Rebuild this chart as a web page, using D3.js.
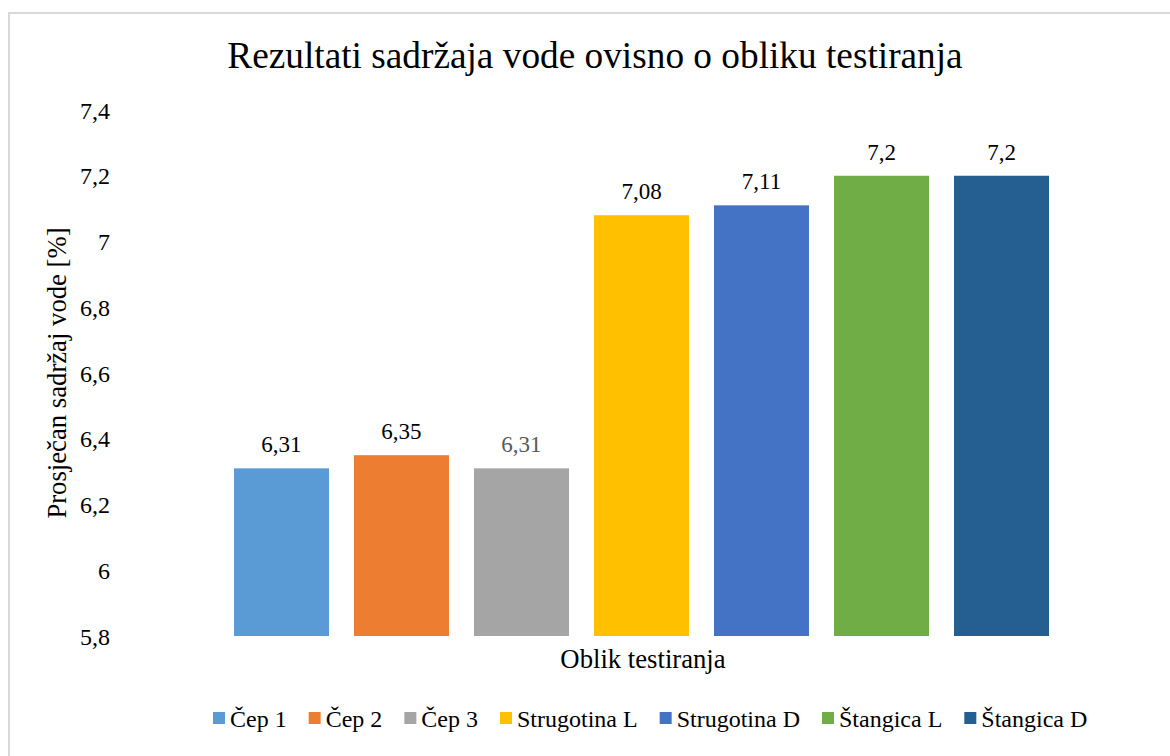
<!DOCTYPE html>
<html>
<head>
<meta charset="utf-8">
<script src="https://cdn.jsdelivr.net/npm/d3@7"></script>
<style>
  html, body { margin: 0; padding: 0; background: #fff; }
  svg text { font-family: "Liberation Serif", "Times New Roman", serif !important; }
</style>
</head>
<body>
<div id="chart"></div>
<script>
// data
const categories = ["Čep 1", "Čep 2", "Čep 3", "Strugotina L", "Strugotina D", "Štangica L", "Štangica D"];
const values = [6.31, 6.35, 6.31, 7.08, 7.11, 7.2, 7.2];
const labels = ["6,31", "6,35", "6,31", "7,08", "7,11", "7,2", "7,2"];
const colors = ["#5B9BD5", "#ED7D31", "#A5A5A5", "#FFC000", "#4472C4", "#70AD47", "#255E91"];
const yTicks = [5.8, 6, 6.2, 6.4, 6.6, 6.8, 7, 7.2, 7.4];

const width = 1170, height = 756;

const svg = d3.select("#chart").append("svg")
    .attr("width", width)
    .attr("height", height)
    .style("display", "block");

// chart frame (runs off the right and bottom edges)
svg.append("rect")
    .attr("x", 9).attr("y", 13)
    .attr("width", 1200).attr("height", 800)
    .attr("fill", "#fff")
    .attr("stroke", "#d9d9d9")
    .attr("stroke-width", 2);

// scales
const x = d3.scaleBand()
    .domain(categories)
    .range([221.5, 1061.5])
    .paddingInner(25 / 120)
    .paddingOuter(0.104);

const y = d3.scaleLinear()
    .domain([5.8, 7.4])
    .range([636, 110]);

// title
svg.append("text")
    .attr("x", 595).attr("y", 68)
    .attr("text-anchor", "middle")
    .attr("font-size", 37.3)
    .attr("fill", "#000")
    .text("Rezultati sadržaja vode ovisno o obliku testiranja");

// y axis (labels only, no line)
const yAxis = svg.append("g")
    .attr("transform", "translate(110,0)")
    .call(d3.axisLeft(y).tickValues(yTicks).tickSize(0).tickPadding(0)
        .tickFormat(d => String(d).replace(".", ",")));
yAxis.attr("font-family", null).attr("font-size", null);
yAxis.select(".domain").remove();
yAxis.selectAll("text")
    .attr("font-size", 24)
    .attr("dy", "0.34em")
    .attr("fill", "#000");

// y axis title
svg.append("text")
    .attr("transform", "translate(66,373) rotate(-90)")
    .attr("text-anchor", "middle")
    .attr("font-size", 26.7)
    .attr("fill", "#000")
    .text("Prosječan sadržaj vode [%]");

// bars
svg.append("g").selectAll("rect")
    .data(categories)
    .join("rect")
    .attr("x", d => x(d))
    .attr("y", (d, i) => y(values[i]))
    .attr("width", x.bandwidth())
    .attr("height", (d, i) => y(5.8) - y(values[i]))
    .attr("fill", (d, i) => colors[i]);

// value labels
svg.append("g").selectAll("text")
    .data(categories)
    .join("text")
    .attr("x", d => x(d) + x.bandwidth() / 2)
    .attr("y", (d, i) => y(values[i]) - 16)
    .attr("text-anchor", "middle")
    .attr("font-size", 23)
    .attr("fill", (d, i) => i === 2 ? "#595959" : "#000")
    .text((d, i) => labels[i]);

// x axis title
svg.append("text")
    .attr("x", 643).attr("y", 668)
    .attr("text-anchor", "middle")
    .attr("font-size", 26.7)
    .attr("fill", "#000")
    .text("Oblik testiranja");

// legend
const legend = svg.append("g").attr("transform", "translate(213,727)");
let lx = 0;
categories.forEach((c, i) => {
    const item = legend.append("g").attr("transform", `translate(${lx},0)`);
    item.append("rect")
        .attr("x", 0).attr("y", -15)
        .attr("width", 12).attr("height", 12)
        .attr("fill", colors[i]);
    const t = item.append("text")
        .attr("x", 17).attr("y", 0)
        .attr("font-size", 24)
        .attr("fill", "#000")
        .text(c);
    lx += 17 + t.node().getComputedTextLength() + 22;
});
</script>
</body>
</html>
